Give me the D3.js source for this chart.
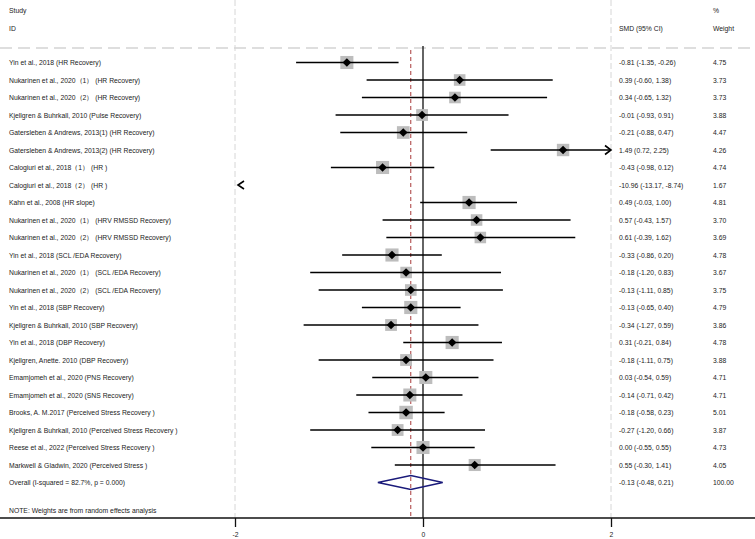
<!DOCTYPE html>
<html><head><meta charset="utf-8">
<script src="https://cdn.jsdelivr.net/npm/d3@7"></script>
<style>
html,body{margin:0;padding:0;background:#fff;}
svg{display:block;font-family:"Liberation Sans",Arial,Helvetica,sans-serif;}
</style></head>
<body>
<svg id="chart" width="755" height="539"></svg>
<script>
const studies = [
  "Yin et al., 2018 (HR Recovery)",
  "Nukarinen et al., 2020（1） (HR Recovery)",
  "Nukarinen et al., 2020（2） (HR Recovery)",
  "Kjellgren & Buhrkall, 2010 (Pulse Recovery)",
  "Gatersleben & Andrews, 2013(1) (HR Recovery)",
  "Gatersleben & Andrews, 2013(2) (HR Recovery)",
  "Calogiuri et al., 2018（1） (HR )",
  "Calogiuri et al., 2018（2） (HR )",
  "Kahn et al., 2008 (HR slope)",
  "Nukarinen et al., 2020（1） (HRV RMSSD Recovery)",
  "Nukarinen et al., 2020（2） (HRV RMSSD Recovery)",
  "Yin et al., 2018 (SCL /EDA Recovery)",
  "Nukarinen et al., 2020（1） (SCL /EDA Recovery)",
  "Nukarinen et al., 2020（2） (SCL /EDA Recovery)",
  "Yin et al., 2018 (SBP Recovery)",
  "Kjellgren & Buhrkall, 2010 (SBP Recovery)",
  "Yin et al., 2018 (DBP Recovery)",
  "Kjellgren, Anette. 2010 (DBP Recovery)",
  "Emamjomeh et al., 2020 (PNS Recovery)",
  "Emamjomeh et al., 2020 (SNS Recovery)",
  "Brooks, A. M.2017 (Perceived Stress Recovery )",
  "Kjellgren & Buhrkall, 2010 (Perceived Stress Recovery )",
  "Reese et al., 2022 (Perceived Stress Recovery )",
  "Markwell & Gladwin, 2020 (Perceived Stress )"
];
const smd   = [-0.81, 0.39, 0.34, -0.01, -0.21, 1.49, -0.43, -10.96, 0.49, 0.57, 0.61, -0.33, -0.18, -0.13, -0.13, -0.34, 0.31, -0.18, 0.03, -0.14, -0.18, -0.27, 0.00, 0.55];
const ciLow = [-1.35, -0.60, -0.65, -0.93, -0.88, 0.72, -0.98, -13.17, -0.03, -0.43, -0.39, -0.86, -1.20, -1.11, -0.65, -1.27, -0.21, -1.11, -0.54, -0.71, -0.58, -1.20, -0.55, -0.30];
const ciHigh= [-0.26, 1.38, 1.32, 0.91, 0.47, 2.25, 0.12, -8.74, 1.00, 1.57, 1.62, 0.20, 0.83, 0.85, 0.40, 0.59, 0.84, 0.75, 0.59, 0.42, 0.23, 0.66, 0.55, 1.41];
const weights = [4.75, 3.73, 3.73, 3.88, 4.47, 4.26, 4.74, 1.67, 4.81, 3.70, 3.69, 4.78, 3.67, 3.75, 4.79, 3.86, 4.78, 3.88, 4.71, 4.71, 5.01, 3.87, 4.73, 4.05];
const overall = {label: "Overall  (I-squared = 82.7%, p = 0.000)", est: -0.13, lo: -0.48, hi: 0.21, weight: "100.00"};
const xTicks = [-2, 0, 2];
const note = "NOTE: Weights are from random effects analysis";

const svg = d3.select("#chart");
const x = d3.scaleLinear().domain([-2, 2]).range([235, 611]);
const y = d3.scaleLinear().domain([0, 24]).range([62.5, 482.5]);
const axisY = 518;
const fs = 6.8;
const txtColor = "#222";
const fmt = v => v.toFixed(2);
const colStudy = 9, colSMD = 619, colW = 713;

// grey dashed guides
svg.append("line").attr("x1", 0).attr("x2", 755).attr("y1", 48).attr("y2", 48)
  .attr("stroke", "#bdbdbd").attr("stroke-width", 1.2).attr("stroke-dasharray", "12,6");
[x(-2), x(2)].forEach(px => {
  svg.append("line").attr("x1", px).attr("x2", px).attr("y1", 0).attr("y2", axisY)
    .attr("stroke", "#d6d6d6").attr("stroke-width", 1).attr("stroke-dasharray", "6,3");
});

// headers
const hdr = svg.append("g").attr("font-size", fs).attr("fill", txtColor);
hdr.append("text").attr("x", colStudy).attr("y", 13).text("Study");
hdr.append("text").attr("x", colStudy).attr("y", 30.5).text("ID");
hdr.append("text").attr("x", colW).attr("y", 13).text("%");
hdr.append("text").attr("x", colSMD).attr("y", 30.5).text("SMD (95% CI)");
hdr.append("text").attr("x", colW).attr("y", 30.5).text("Weight");

// overall dashed red line
svg.append("line").attr("x1", x(overall.est)).attr("x2", x(overall.est))
  .attr("y1", 50).attr("y2", axisY)
  .attr("stroke", "#a83a3a").attr("stroke-width", 1).attr("stroke-dasharray", "4,3");
// null line
svg.append("line").attr("x1", x(0)).attr("x2", x(0)).attr("y1", 46).attr("y2", axisY)
  .attr("stroke", "#111").attr("stroke-width", 1.3);

// study rows
const rows = svg.append("g");
studies.forEach((s, i) => {
  const cy = y(i);
  const lo = ciLow[i], hi = ciHigh[i], est = smd[i];
  const [d0, d1] = x.domain();
  if (hi < d0) {
    const ax = x(d0) + 3;
    rows.append("path").attr("d", `M${ax + 6},${cy - 4} L${ax},${cy} L${ax + 6},${cy + 4}`)
      .attr("fill", "none").attr("stroke", "#000").attr("stroke-width", 1.6);
  } else {
    const lx = x(Math.max(lo, d0)), rx = x(Math.min(hi, d1));
    const side = 6 * Math.sqrt(weights[i]);
    rows.append("rect").attr("x", x(est) - side / 2).attr("y", cy - side / 2)
      .attr("width", side).attr("height", side).attr("fill", "#bdbdbd");
    rows.append("line").attr("x1", lx).attr("x2", rx).attr("y1", cy).attr("y2", cy)
      .attr("stroke", "#000").attr("stroke-width", 1.6);
    if (hi > d1) {
      rows.append("path").attr("d", `M${rx - 6},${cy - 4.5} L${rx},${cy} L${rx - 6},${cy + 4.5}`)
        .attr("fill", "none").attr("stroke", "#000").attr("stroke-width", 1.6);
    }
    const dsz = 4.3;
    rows.append("path").attr("d", `M${x(est)},${cy - dsz} L${x(est) + dsz},${cy} L${x(est)},${cy + dsz} L${x(est) - dsz},${cy} Z`)
      .attr("fill", "#000");
  }
  rows.append("text").attr("x", colStudy).attr("y", cy + 2.5).attr("font-size", fs).attr("fill", txtColor).text(s);
  rows.append("text").attr("x", colSMD).attr("y", cy + 2.5).attr("font-size", fs).attr("fill", txtColor)
    .text(`${fmt(est)} (${fmt(lo)}, ${fmt(hi)})`);
  rows.append("text").attr("x", colW).attr("y", cy + 2.5).attr("font-size", fs).attr("fill", txtColor).text(fmt(weights[i]));
});

// overall diamond
const oy = y(24);
svg.append("path")
  .attr("d", `M${x(overall.lo)},${oy} L${x(overall.est)},${oy - 7} L${x(overall.hi)},${oy} L${x(overall.est)},${oy + 7} Z`)
  .attr("fill", "none").attr("stroke", "#1a1a7a").attr("stroke-width", 1.4);
svg.append("text").attr("x", colStudy).attr("y", oy + 2.5).attr("font-size", fs).attr("fill", txtColor).text(overall.label);
svg.append("text").attr("x", colSMD).attr("y", oy + 2.5).attr("font-size", fs).attr("fill", txtColor)
  .text(`${fmt(overall.est)} (${fmt(overall.lo)}, ${fmt(overall.hi)})`);
svg.append("text").attr("x", colW).attr("y", oy + 2.5).attr("font-size", fs).attr("fill", txtColor).text(overall.weight);

// note
svg.append("text").attr("x", colStudy).attr("y", 513).attr("font-size", fs).attr("fill", txtColor).text(note);

// axis
svg.append("line").attr("x1", 0).attr("x2", 755).attr("y1", axisY).attr("y2", axisY)
  .attr("stroke", "#111").attr("stroke-width", 1.3);
const axis = d3.axisBottom(x).tickValues(xTicks).tickSize(9).tickPadding(5).tickFormat(d => String(d));
const ag = svg.append("g").attr("transform", `translate(0,${axisY})`).call(axis);
ag.select(".domain").remove();
ag.selectAll(".tick line").attr("stroke", "#111").attr("stroke-width", 1.3);
ag.selectAll(".tick text").attr("font-size", fs).attr("fill", txtColor).attr("font-family", "Liberation Sans, Arial, sans-serif");
</script>
</body></html>
